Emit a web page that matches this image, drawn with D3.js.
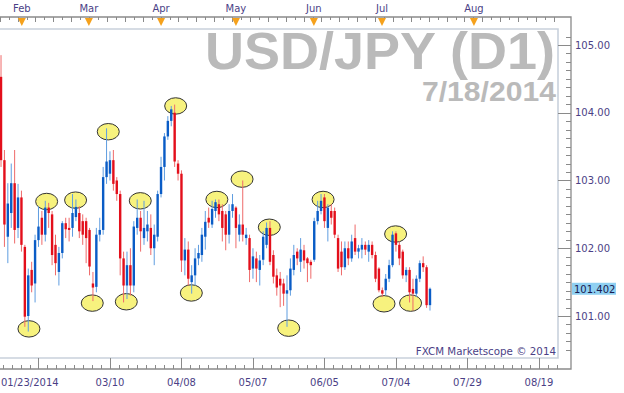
<!DOCTYPE html>
<html><head><meta charset="utf-8">
<script src="https://cdn.jsdelivr.net/npm/d3@7"></script>
<style>body{margin:0;background:#fff}svg{display:block}</style>
</head><body>
<svg id="c" width="624" height="393"></svg>
<script>
// OHLC per trading day, 23 Jan 2014 (index 0) to 18 Jul 2014 (index 126)
const open  = [104.53,103.30,102.17,102.52,102.96,102.30,102.75,102.02,101.00,101.68,101.48,102.12,102.45,102.20,102.60,102.50,102.05,101.65,101.93,102.37,102.30,102.30,102.46,102.52,102.40,102.40,102.27,101.48,101.43,102.20,102.27,103.05,103.10,103.30,103.00,102.80,101.85,101.45,101.75,101.45,102.30,102.45,102.15,102.25,102.30,102.00,102.17,102.80,103.20,103.65,103.88,104.00,103.25,103.10,101.82,101.98,101.50,101.60,101.85,101.90,102.17,102.45,102.35,102.55,102.65,102.55,102.50,102.20,102.55,102.60,102.20,102.35,102.15,102.15,101.70,101.85,101.68,101.83,102.05,102.30,101.90,101.60,101.55,101.48,101.33,101.38,101.68,101.95,101.80,101.97,101.85,101.80,101.83,102.40,102.55,102.75,102.30,102.55,102.55,102.15,101.95,101.72,102.00,101.85,102.15,101.95,101.98,102.05,101.95,102.05,101.90,101.70,101.38,101.38,101.55,101.75,102.22,102.05,101.95,101.60,101.68,101.40,101.33,101.55,101.78,101.72,101.16];
const high  = [104.85,103.45,102.96,103.25,103.45,102.95,102.85,102.05,101.70,101.80,102.20,102.62,102.55,102.70,102.67,102.55,102.20,102.02,102.40,102.45,102.45,102.80,102.72,102.62,102.50,102.45,102.30,101.65,102.30,102.45,103.20,103.77,103.43,103.45,103.05,102.85,101.95,101.95,102.00,102.40,102.72,102.55,102.70,102.55,102.50,102.35,102.85,103.35,103.70,103.95,104.10,104.12,103.30,103.15,102.15,102.10,101.75,102.00,102.05,102.30,102.55,102.60,102.70,102.72,102.72,102.65,102.55,102.65,102.80,102.62,102.50,103.00,102.30,102.20,102.00,101.95,101.90,102.25,102.38,102.40,101.97,101.70,101.65,101.55,101.60,101.85,102.05,102.00,102.15,102.05,101.87,101.83,102.45,102.70,102.80,102.80,102.65,102.65,102.60,102.20,102.10,102.10,102.10,102.20,102.35,102.05,102.15,102.10,102.12,102.10,101.95,101.72,101.42,101.62,101.83,102.25,102.25,102.10,101.98,101.72,101.72,101.55,101.60,101.82,101.88,101.75,101.42];
const low   = [103.20,102.02,101.78,102.30,102.07,102.15,101.95,100.84,100.77,101.35,101.20,102.02,102.05,102.10,102.30,101.75,101.60,101.45,101.85,102.15,102.10,102.17,102.40,102.15,102.05,101.78,101.60,101.22,101.35,102.10,102.20,102.95,103.00,102.85,102.70,101.60,101.20,101.25,101.30,101.35,102.20,101.95,102.05,102.10,101.90,101.75,102.10,102.75,103.00,103.60,103.80,103.20,103.00,101.65,101.60,101.45,101.33,101.45,101.75,101.80,101.98,102.30,102.30,102.45,102.40,102.10,101.97,102.07,102.45,102.00,102.10,102.10,102.05,101.50,101.55,101.50,101.45,101.75,102.00,101.75,101.48,101.30,101.13,101.15,100.84,101.30,101.60,101.75,101.65,101.70,101.50,101.55,101.80,102.35,102.50,102.30,102.10,102.35,102.15,101.65,101.60,101.68,101.75,101.80,101.90,101.85,101.85,101.90,101.80,101.85,101.50,101.35,101.28,101.30,101.50,101.72,101.95,101.75,101.55,101.50,101.20,101.08,101.28,101.50,101.65,101.12,101.08];
const close = [103.30,102.35,102.66,102.96,102.27,102.75,102.05,100.99,101.60,101.45,102.12,102.32,102.20,102.60,102.52,101.90,101.78,101.93,102.37,102.28,102.27,102.52,102.61,102.25,102.20,102.15,101.73,101.42,102.20,102.27,103.05,103.28,103.30,102.95,102.80,101.85,101.45,101.75,101.45,102.32,102.45,102.25,102.30,102.35,102.00,102.20,102.80,103.20,103.65,103.88,104.05,103.28,103.10,101.82,101.98,101.55,101.60,101.85,101.93,102.20,102.39,102.38,102.58,102.68,102.50,102.30,102.20,102.55,102.65,102.30,102.35,102.20,102.20,101.68,101.88,101.70,101.82,102.17,102.30,101.80,101.58,101.42,101.45,101.33,101.38,101.70,101.90,101.85,101.98,101.82,101.78,101.75,102.40,102.55,102.70,102.40,102.60,102.45,102.20,101.70,101.72,102.00,101.85,102.10,101.95,102.00,102.05,101.98,102.05,101.90,101.55,101.38,101.33,101.55,101.75,102.20,102.05,101.85,101.60,101.68,101.35,101.33,101.55,101.78,101.72,101.16,101.402];

// swing-point markers (bar position, price)
const markBar   = [8.2,13.4,21.9,26.8,31.5,36.8,40.9,51.3,55.9,63.4,70.8,78.8,84.5,94.6,112.5,115.9,120.3];
const markPrice = [100.81,102.69,102.71,101.19,103.72,101.21,102.70,104.10,101.34,102.72,103.02,102.31,100.82,102.72,101.18,102.21,101.19];

// axis labels
const priceTicks = [101,102,103,104,105];
const dateLabels = ["01/23/2014","03/10","04/08","05/07","06/05","07/04","07/29","08/19"];
const dateTickBars = [11,32,53,74,95,116,137,158];
const monthLabels = ["Feb","Mar","Apr","May","Jun","Jul","Aug"];
const monthBars   = [6.1,25.8,47.0,69.0,91.9,111.9,138.9];
const lastPrice = 101.402;

const svg = d3.select("#c");
const W = 624, H = 393;
const plotR = 558, plotT = 29, plotB = 358, axR = 571, axT = 17, axB = 369;
const x = d3.scaleLinear().domain([-0.3, 163.6]).range([0, plotR]);
const y = d3.scaleLinear().domain([100.38, 105.236]).range([plotB, plotT]);
const txt = "#4b3f86", font = "DejaVu Sans, Verdana, sans-serif";

svg.append("rect").attr("width", W).attr("height", H).attr("fill", "#fff");

// watermark titles
svg.append("text").attr("x", 555).attr("y", 68.5).attr("text-anchor", "end")
  .attr("font-family", "Liberation Sans, Arial, sans-serif").attr("font-weight", "bold")
  .attr("font-size", 51).attr("fill", "#bababa").attr("textLength", 350).attr("lengthAdjust", "spacingAndGlyphs")
  .text("USD/JPY (D1)");
svg.append("text").attr("x", 556).attr("y", 100.5).attr("text-anchor", "end")
  .attr("font-family", "Liberation Sans, Arial, sans-serif").attr("font-weight", "bold")
  .attr("font-size", 27).attr("fill", "#bababa").attr("textLength", 134).attr("lengthAdjust", "spacingAndGlyphs")
  .text("7/18/2014");

// plot border
const bc = "#c9d1dc";
svg.append("path").attr("d", `M0,${plotT}H${plotR}V${plotB}H0`).attr("fill", "none").attr("stroke", bc).attr("stroke-width", 1.6);

// outer axis lines
svg.append("path").attr("d", `M0,${axT}H${axR}V${axB}H0`).attr("fill", "none").attr("stroke", "#8a8a8a").attr("stroke-width", 1.3);

// right axis ticks
const yMinor = d3.range(100.5, 105.24, 0.125);
svg.append("g").selectAll("line").data(yMinor).join("line")
  .attr("x1", d => Math.abs(d - Math.round(d)) < 1e-6 ? plotR : axR - 5).attr("x2", axR)
  .attr("y1", d => Math.round(y(d)) + 0.5).attr("y2", d => Math.round(y(d)) + 0.5)
  .attr("stroke", "#8a8a8a").attr("stroke-width", 1);
const yAxis = d3.axisRight(y).tickValues(priceTicks).tickFormat(d3.format(".2f")).tickSize(0).tickPadding(4);
const gy = svg.append("g").attr("transform", `translate(${axR},0)`).call(yAxis);
gy.select(".domain").remove();
gy.selectAll("text").attr("font-family", font).attr("font-size", 10).attr("fill", txt);

// bottom & top ticks
const step = 21 / 8;
const xMinor = d3.range(11 - 8 * step, 164, step).filter(b => x(b) >= 0 && x(b) <= axR);
svg.append("g").selectAll("line").data(xMinor).join("line")
  .attr("x1", b => Math.round(x(b)) + 0.5).attr("x2", b => Math.round(x(b)) + 0.5)
  .attr("y1", (b, i) => dateTickBars.some(t => Math.abs(t - b) < 1e-6) ? plotB : axB - 4).attr("y2", axB)
  .attr("stroke", "#8a8a8a").attr("stroke-width", 1);
svg.append("g").selectAll("line").data(xMinor).join("line")
  .attr("x1", b => Math.round(x(b) - 3) + 0.5).attr("x2", b => Math.round(x(b) - 3) + 0.5)
  .attr("y1", axT).attr("y2", (b, i) => axT + (i % 2 ? 3 : 5))
  .attr("stroke", "#8a8a8a").attr("stroke-width", 1);

svg.append("g").selectAll("text").data(dateLabels).join("text")
  .attr("x", (d, i) => i === 0 ? 1 : x(dateTickBars[i]))
  .attr("y", 385.5).attr("text-anchor", (d, i) => i === 0 ? "start" : "middle")
  .attr("font-family", font).attr("font-size", 10).attr("fill", txt).text(d => d);

// month markers
const mg = svg.append("g");
mg.selectAll("path").data(monthBars).join("path")
  .attr("d", b => `M${x(b) - 4},${axT + 1}L${x(b) + 4},${axT + 1}L${x(b)},${axT + 9}Z`)
  .attr("fill", "#f5a11c");
mg.selectAll("text").data(monthLabels).join("text")
  .attr("x", (d, i) => x(monthBars[i])).attr("y", 12).attr("text-anchor", "middle")
  .attr("font-family", font).attr("font-size", 10).attr("fill", txt).text(d => d);

// last price tag
svg.append("rect").attr("x", axR + 1).attr("y", y(lastPrice) - 6).attr("width", 44).attr("height", 12).attr("fill", "#8fd0f2");
svg.append("text").attr("x", axR + 3).attr("y", y(lastPrice) + 3.8).attr("font-family", font).attr("font-size", 10)
  .attr("fill", "#1a1a50").text(lastPrice.toFixed(3));

// copyright
svg.append("text").attr("x", 556).attr("y", 355).attr("text-anchor", "end")
  .attr("font-family", font).attr("font-size", 10.3).attr("fill", txt).text("FXCM Marketscope \u00A9 2014");

// markers (behind candles)
svg.append("g").selectAll("ellipse").data(markBar).join("ellipse")
  .attr("cx", b => x(b)).attr("cy", (b, i) => y(markPrice[i]))
  .attr("rx", 11).attr("ry", 8.2).attr("fill", "#f7f27e").attr("stroke", "#333").attr("stroke-width", 1);

// candles
const bars = d3.range(open.length);
const up = i => close[i] >= open[i];
const cg = svg.append("g");
cg.selectAll("line").data(bars).join("line")
  .attr("x1", i => x(i)).attr("x2", i => x(i))
  .attr("y1", i => y(high[i])).attr("y2", i => y(low[i]))
  .attr("stroke", i => up(i) ? "#5f9de0" : "#ef6a6a").attr("stroke-width", 1);
cg.selectAll("rect").data(bars).join("rect")
  .attr("x", i => x(i) - 1.2).attr("width", 2.4)
  .attr("y", i => y(Math.max(open[i], close[i])))
  .attr("height", i => Math.max(1, Math.abs(y(open[i]) - y(close[i]))))
  .attr("fill", i => up(i) ? "#0a5cc6" : "#e30f1b");
</script>
</body></html>
